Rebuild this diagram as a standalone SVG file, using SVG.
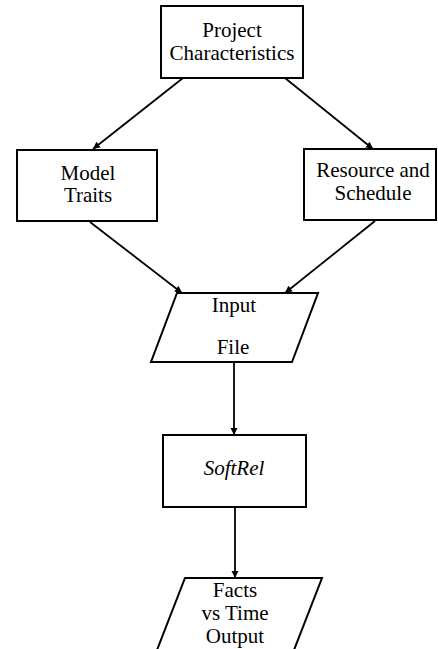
<svg xmlns="http://www.w3.org/2000/svg" width="438" height="649" viewBox="0 0 438 649">
<style>
.n{fill:#fff;stroke:#000;stroke-width:2}
.t{font-family:"Liberation Serif","DejaVu Serif","Times New Roman",serif;font-size:21px;fill:#000;text-anchor:middle}
.c{stroke:#000;stroke-width:1.8;fill:none;marker-end:url(#ah)}
</style>
<defs>
<marker id="ah" viewBox="0 0 10 10" refX="10" refY="5" markerWidth="4" markerHeight="4" orient="auto" markerUnits="strokeWidth">
<path d="M0,0 L10,5 L0,10 z" fill="#000"/>
</marker>
</defs>
<rect width="438" height="649" fill="#fff"/>
<g id="connectors">
<line class="c" x1="183" y1="78" x2="93" y2="149"/>
<line class="c" x1="285" y1="78" x2="373" y2="149"/>
<line class="c" x1="90" y1="222" x2="182" y2="293"/>
<line class="c" x1="375" y1="221" x2="285" y2="293"/>
<line class="c" x1="234" y1="362" x2="234" y2="435"/>
<line class="c" x1="235" y1="507" x2="235" y2="578"/>
</g>
<g id="project">
<rect class="n" x="161" y="6" width="142" height="72"/>
<text class="t" x="232" y="37">Project</text>
<text class="t" x="232" y="60">Characteristics</text>
</g>
<g id="model">
<rect class="n" x="17" y="150" width="140" height="71"/>
<text class="t" x="88" y="180">Model</text>
<text class="t" x="88" y="202">Traits</text>
</g>
<g id="resource">
<rect class="n" x="304" y="149" width="132" height="71"/>
<text class="t" x="373" y="177">Resource and</text>
<text class="t" x="373" y="200">Schedule</text>
</g>
<g id="input">
<polygon class="n" points="177,293 318,293 292,362 151,362"/>
<text class="t" x="234" y="312">Input</text>
<text class="t" x="233" y="354">File</text>
</g>
<g id="softrel">
<rect class="n" x="163" y="435" width="143" height="72"/>
<text class="t" x="234" y="475" font-style="italic">SoftRel</text>
</g>
<g id="facts">
<polygon class="n" points="185,578 322,578 294,650 157,650"/>
<text class="t" x="235" y="597">Facts</text>
<text class="t" x="235" y="620">vs Time</text>
<text class="t" x="235" y="643">Output</text>
</g>
</svg>
